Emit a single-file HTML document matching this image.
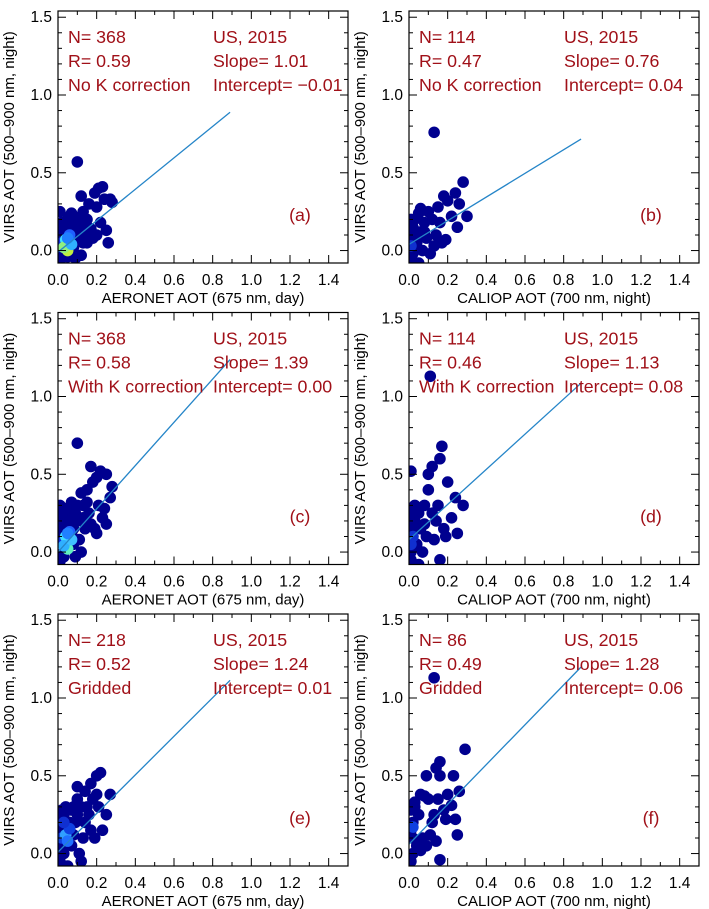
<!DOCTYPE html>
<html><head><meta charset="utf-8"><style>
html,body{margin:0;padding:0;background:#fff;}
svg{display:block;font-family:"Liberation Sans",Arial,sans-serif;}
</style></head><body>
<svg id="chart" width="709" height="909" xmlns="http://www.w3.org/2000/svg"></svg>
<script>
const panelLabels = ["(a)","(b)","(c)","(d)","(e)","(f)"];
const nValues = ["368","114","368","114","218","86"];
const rValues = ["0.59","0.47","0.58","0.46","0.52","0.49"];
const slopes = [1.01,0.76,1.39,1.13,1.24,1.28];
const intercepts = [-0.01,0.04,0.00,0.08,0.01,0.06];
const slopeText = ["1.01","0.76","1.39","1.13","1.24","1.28"];
const interceptText = ["\u22120.01","0.04","0.00","0.08","0.01","0.06"];
const notes = ["No K correction","No K correction","With K correction","With K correction","Gridded","Gridded"];
const xTitles = ["AERONET AOT (675 nm, day)","CALIOP AOT (700 nm, night)"];
const xTicks = [0.0,0.2,0.4,0.6,0.8,1.0,1.2,1.4];
const yTicks = [0.0,0.5,1.0,1.5];
const xsA = [0.1,0.21,0.23,0.19,0.27,0.28,0.24,0.16,0.12,0.2,0.13,0.08,0.05,0.15,0.22,0.25,0.26,0.18,0.14,0.1,0.07,0.03,0.02,0.04,0.12,0.09,0.01,0.06,0.11,0.17,0.2,0.03,0.08,0.02,0.01,0.06,0.09,0.13,0.01,0.02,0.04,0.06,0.08,0.1,0.12,0.15,0.03,0.05,0.07,0.11,0.14];
const ysA = [0.57,0.40,0.41,0.37,0.33,0.31,0.33,0.30,0.35,0.28,0.25,0.22,0.20,0.20,0.18,0.13,0.05,0.08,0.12,0.15,0.10,0.15,0.08,0.03,-0.03,-0.05,-0.07,0.12,0.07,0.14,0.10,-0.02,0.02,0.18,0.25,0.16,0.20,0.05,0.0,0.12,0.18,0.22,0.15,0.1,0.18,0.05,0.1,-0.04,0.24,0.2,0.17];
const xsB = [0.13,0.24,0.28,0.26,0.18,0.15,0.2,0.1,0.12,0.22,0.08,0.05,0.03,0.02,0.01,0.06,0.09,0.14,0.17,0.25,0.3,0.04,0.07,0.11,0.19,0.02,0.01,0.05,0.08,0.13,0.16,0.03,0.06,0.01,0.02,0.04,0.01];
const ysB = [0.76,0.37,0.44,0.30,0.35,0.28,0.32,0.25,0.2,0.22,0.18,0.24,0.2,0.15,0.1,0.12,0.08,0.1,0.05,0.15,0.22,0.05,0.0,-0.02,0.07,0.02,-0.05,-0.08,0.12,0.03,0.18,0.08,0.27,0.2,-0.02,0.12,0.05];
const xsC = [0.1,0.22,0.25,0.2,0.28,0.27,0.18,0.15,0.12,0.21,0.13,0.08,0.05,0.16,0.23,0.25,0.19,0.14,0.1,0.07,0.03,0.02,0.04,0.12,0.09,0.01,0.06,0.11,0.17,0.2,0.03,0.08,0.02,0.01,0.06,0.09,0.24,0.17,0.01,0.02,0.04,0.07,0.1,0.13,0.03,0.05,0.08,0.15];
const ysC = [0.70,0.52,0.50,0.48,0.42,0.35,0.45,0.40,0.38,0.30,0.30,0.28,0.25,0.25,0.22,0.18,0.15,0.15,0.2,0.12,0.18,0.1,0.05,0.0,-0.03,-0.06,0.14,0.08,0.18,0.12,0.0,0.05,0.22,0.3,0.2,0.25,0.28,0.55,0.15,0.25,0.28,0.32,0.3,0.22,-0.03,0.02,0.15,0.32];
const xsD = [0.11,0.17,0.16,0.01,0.12,0.2,0.28,0.24,0.15,0.1,0.08,0.05,0.03,0.02,0.01,0.06,0.09,0.14,0.18,0.22,0.25,0.04,0.07,0.13,0.19,0.02,0.01,0.05,0.08,0.16,0.12,0.03,0.1,0.01,0.02,0.03,0.01];
const ysD = [1.13,0.68,0.6,0.52,0.55,0.45,0.3,0.35,0.3,0.4,0.3,0.25,0.2,0.18,0.12,0.15,0.1,0.2,0.15,0.22,0.12,0.05,0.0,0.08,0.1,0.03,-0.05,-0.08,0.18,-0.05,0.25,0.3,0.5,0.25,0.1,0.15,0.0];
const xsE = [0.2,0.22,0.17,0.1,0.14,0.2,0.18,0.27,0.15,0.12,0.08,0.05,0.03,0.02,0.01,0.06,0.09,0.14,0.17,0.23,0.25,0.04,0.07,0.11,0.19,0.02,0.01,0.05,0.08,0.13,0.16,0.03,0.06,0.21,0.12,0.1,0.01,0.02,0.04,0.07,0.1,0.03];
const ysE = [0.5,0.52,0.45,0.43,0.4,0.38,0.35,0.38,0.3,0.3,0.3,0.28,0.25,0.2,0.15,0.2,0.2,0.2,0.15,0.15,0.25,0.1,0.05,0.0,0.1,0.05,-0.05,-0.08,0.12,0.1,0.25,0.0,0.15,0.3,-0.05,0.35,0.25,0.28,0.3,0.28,0.25,0.05];
const xsF = [0.13,0.29,0.16,0.14,0.09,0.16,0.23,0.26,0.08,0.06,0.15,0.2,0.22,0.12,0.18,0.24,0.1,0.05,0.03,0.02,0.01,0.07,0.11,0.14,0.25,0.09,0.04,0.02,0.06,0.16,0.19,0.13,0.03,0.01,0.02,0.01];
const ysF = [1.13,0.67,0.59,0.55,0.5,0.5,0.5,0.4,0.37,0.38,0.35,0.38,0.31,0.2,0.28,0.22,0.35,0.25,0.3,0.2,0.15,0.1,0.12,0.08,0.12,0.05,0.05,0.0,0.02,-0.04,0.22,0.25,0.33,0.28,0.1,-0.05];
const allX = [xsA,xsB,xsC,xsD,xsE,xsF];
const allY = [ysA,ysB,ysC,ysD,ysE,ysF];
const denseX = [[0.02,0.04,0.06,0.05,0.03,0.07,0.05],[0.01],[0.02,0.04,0.06,0.05,0.03,0.07,0.05],[0.01,0.02],[0.02,0.04,0.05,0.06,0.03],[0.02]];
const denseY = [[0.05,0.07,0.1,0.0,0.02,0.04,0.08],[0.03],[0.06,0.1,0.13,0.02,0.04,0.08,0.12],[0.05,0.1],[0.1,0.12,0.08,0.16,0.2],[0.17]];
const denseC = [["#1030e0","#40e0ff","#2060ff","#c0f040","#90f080","#30b0ff","#2080ff"],["#1030d0"],["#1030e0","#40e0ff","#2060ff","#60f0c0","#30b0ff","#40c0ff","#2080ff"],["#1030d0","#1030d0"],["#1040e0","#30a0ff","#2070ff","#1040e0","#1030d0"],["#1040e0"]];

const svg = document.getElementById('chart');
const NS = "http://www.w3.org/2000/svg";
function mk(tag, attrs, parent){const e=document.createElementNS(NS,tag);for(const k in attrs)e.setAttribute(k,attrs[k]);(parent||svg).appendChild(e);return e;}
const W=290,H=252,YMIN=-0.08,YMAX=1.54;
for(let p=0;p<6;p++){
  const col=p%2,row=Math.floor(p/2);
  const L=58+351*col,T=11+301.5*row;
  const sx=v=>L+v/1.5*W;
  const sy=v=>T+H-(v-YMIN)/(YMAX-YMIN)*H;
  const g=mk('g',{});
  
  
  const clip=mk('clipPath',{id:'c'+p},g);mk('rect',{x:L,y:T,width:W,height:H},clip);
  const pts=mk('g',{'clip-path':'url(#c'+p+')'},g);
  
  
  for(let i=0;i<allX[p].length;i++){
    const c=mk('circle',{cx:sx(allX[p][i]),cy:sy(allY[p][i]),r:5.8,fill:'#00008f'},pts);
    
    
  }
  for(let i=0;i<denseX[p].length;i++){
    const c=mk('circle',{cx:sx(denseX[p][i]),cy:sy(denseY[p][i]),r:5.8,fill:denseC[p][i]},pts);
    
    
  }
  const ln=mk('line',{x1:sx(0),y1:sy(intercepts[p]),x2:sx(0.89),y2:sy(intercepts[p]+slopes[p]*0.89),stroke:'#2585c8','stroke-width':1.3},pts);
  
  
  const fr=mk('rect',{x:L,y:T,width:W,height:H,fill:'none',stroke:'#000','stroke-width':1.2},g);
  
  
  for(let k=0;k<=15;k++){const v=k*0.1,len=(k%2==0)?8:4,x=sx(v);
    mk('line',{x1:x,y1:T+H,x2:x,y2:T+H-len,stroke:'#000'},g);
    mk('line',{x1:x,y1:T,x2:x,y2:T+len,stroke:'#000'},g);}
  xTicks.forEach(v=>{const t=mk('text',{x:sx(v),y:T+H+22,'text-anchor':'middle','font-size':15.5},g);t.textContent=v.toFixed(1);
    });
  for(let k=0;k<=15;k++){const v=k*0.1,len=(k%5==0)?8:4,y=sy(v);
    mk('line',{x1:L,y1:y,x2:L+len,y2:y,stroke:'#000'},g);
    mk('line',{x1:L+W,y1:y,x2:L+W-len,y2:y,stroke:'#000'},g);}
  yTicks.forEach(v=>{const t=mk('text',{x:L-6,y:sy(v)+5,'text-anchor':'end','font-size':15.5},g);t.textContent=v.toFixed(1);
    });
  const xt=mk('text',{x:L+W/2,y:T+H+40,'text-anchor':'middle','font-size':15},g);xt.textContent=xTitles[col];
  
  const yx=L-44,yy=T+H/2;
  const yt=mk('text',{x:yx,y:yy,'text-anchor':'middle','font-size':15,transform:'rotate(-90 '+yx+' '+yy+')'},g);yt.textContent='VIIRS AOT (500\u2013900 nm, night)';
  
  const red='#a01018';
  const ann=[[L+10,T+32,'N= '+nValues[p]],[L+10,T+56,'R= '+rValues[p]],[L+10,T+80,notes[p]],
             [L+155,T+32,'US, 2015'],[L+155,T+56,'Slope= '+slopeText[p]],[L+155,T+80,'Intercept= '+interceptText[p]]];
  ann.forEach(a=>{const t=mk('text',{x:a[0],y:a[1],'font-size':17.8,fill:red},g);t.textContent=a[2];
    });
  const pl=mk('text',{x:L+242,y:T+210,'text-anchor':'middle','font-size':17.8,fill:red},g);pl.textContent=panelLabels[p];
  
}
</script>
</body></html>
